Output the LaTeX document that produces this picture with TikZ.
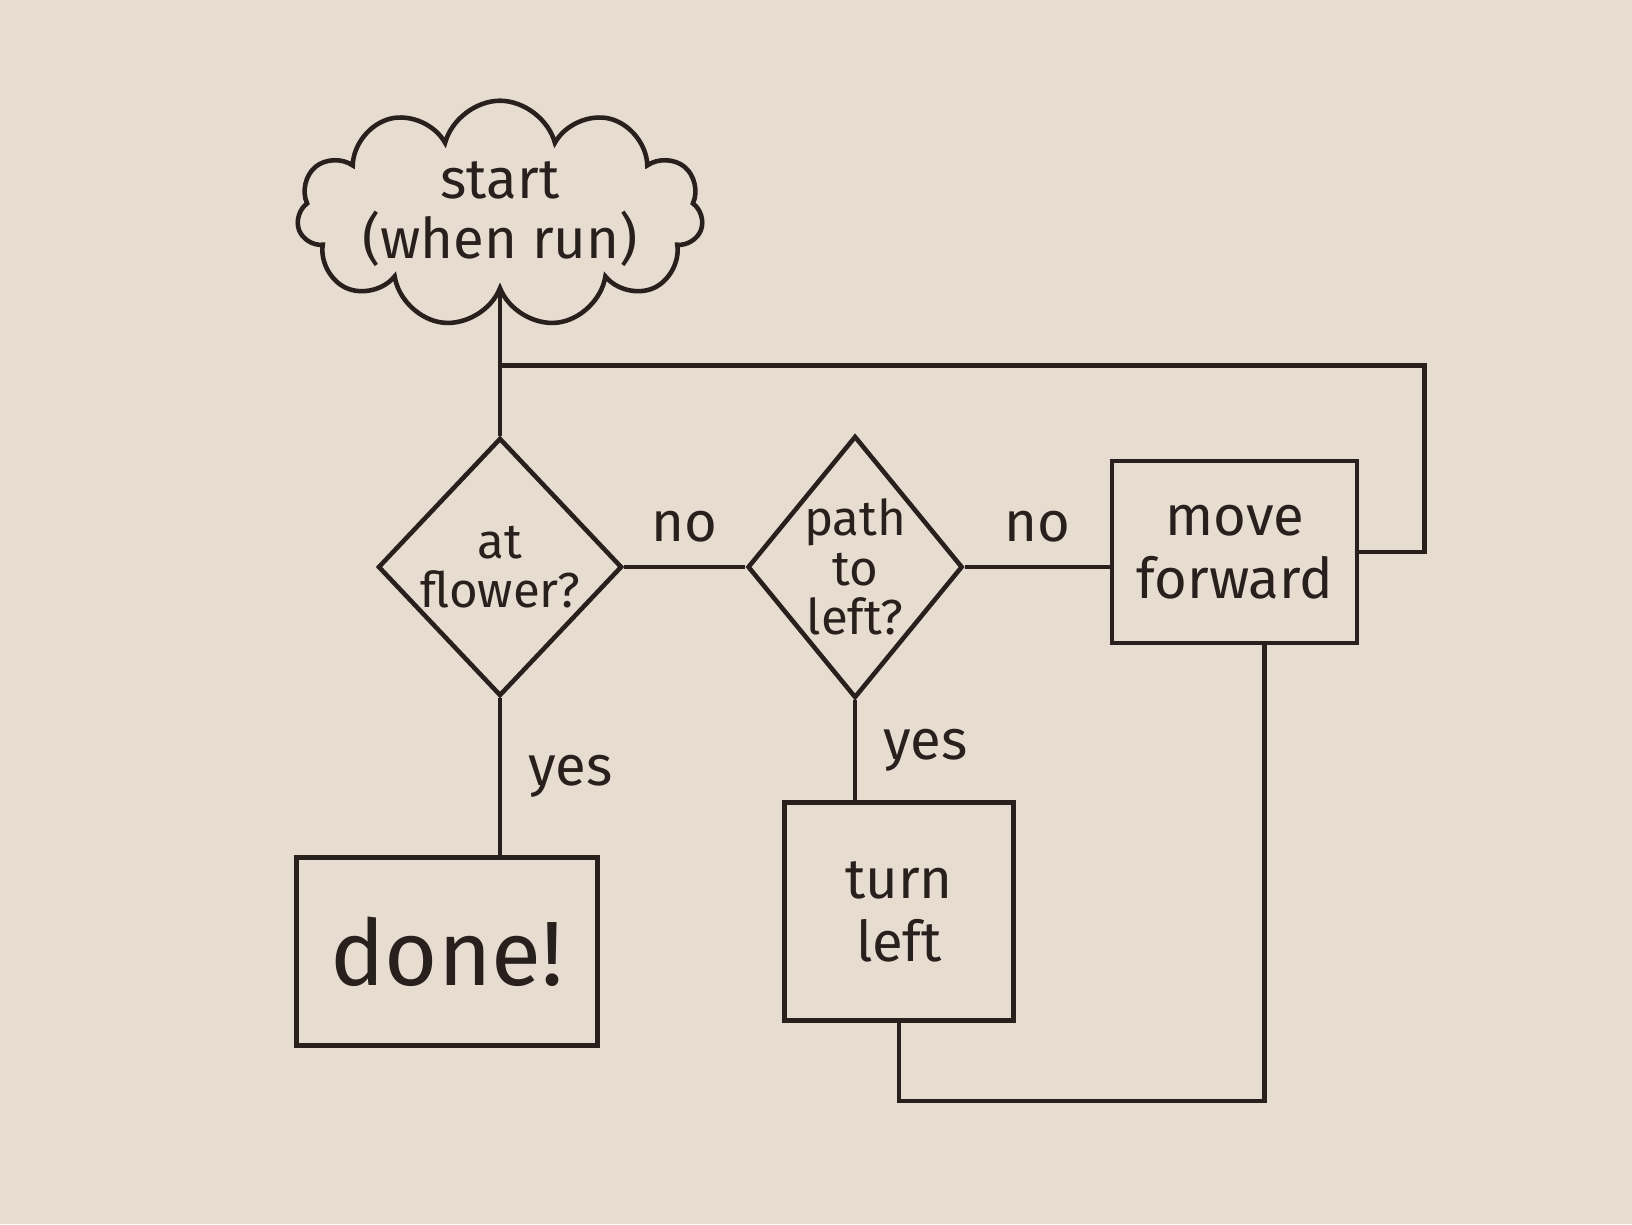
\documentclass[tikz,border=0pt]{standalone}
\usepackage{fontspec}
\setmainfont{Fira Sans}
\usepackage{xcolor}
\usepackage{tikz}
\usetikzlibrary{positioning, calc, shapes.geometric, shapes.symbols}

\definecolor{paper}{RGB}{231,220,208}
\definecolor{ink}{RGB}{40,32,28}

\begin{document}
\begin{tikzpicture}[line width=1.3pt, draw=ink, text=ink,
      every node/.style={text=ink},
      cloudbox/.style={draw=ink, cloud, cloud puffs=11, cloud ignores aspect, align=center,
        inner sep=0pt, minimum width=3.45cm, minimum height=1.6cm, font=\fontsize{16}{17}\selectfont},
      decision/.style={draw=ink, diamond, align=center, inner sep=-8pt,
        font=\fontsize{14}{14}\selectfont},
      action/.style={draw=ink, rectangle, align=center, font=\fontsize{16}{18}\selectfont},
      lbl/.style={font=\fontsize{16}{18}\selectfont}]

    \fill[paper] (0,0) rectangle (16.32,12.24);
    \useasboundingbox (0,0) rectangle (16.32,12.24);

    \node[decision, minimum width=2.44cm, minimum height=2.58cm] (atflower) at (5.0,6.57) {at\\flower?};
    \node[cloudbox, above=1.42cm of atflower] (start) {start\\(when run)};
    \node[decision, minimum width=2.15cm, minimum height=2.62cm, right=1.21cm of atflower] (pathleft) {path\\to\\left?};
    \node[action, minimum width=2.45cm, minimum height=1.82cm, right=1.45cm of pathleft, yshift=0.15cm] (moveforward) {move\\forward};
    \node[action, minimum width=3.01cm, minimum height=1.88cm, below=1.57cm of atflower, xshift=-0.53cm,
      font=\fontsize{26}{28}\selectfont] (done) {done!};
    \node[action, minimum width=2.29cm, minimum height=2.18cm, below=1.0cm of pathleft, xshift=0.44cm] (turnleft) {turn\\left};

    \coordinate (loopjoin) at ($(atflower.north)+(0,0.7)$);

    \draw (start) -- (atflower);
    \draw (atflower) -- node[lbl, midway, above=3pt] {no} (pathleft);
    \draw (pathleft.east) -- node[lbl, midway, above=3pt] {no} (pathleft.east -| moveforward.west);
    \draw (atflower) -- node[lbl, midway, right=4pt] {yes} (atflower |- done.north);
    \draw (pathleft.south) -- node[lbl, midway, right=4pt] {yes} (pathleft.south |- turnleft.north);

    % loop back to the first question
    \draw (moveforward.east) -- ++(0.65,0) |- (loopjoin);
    \draw (turnleft.south) -- ++(0,-0.78) -| ([xshift=0.3cm]moveforward.south);
  \end{tikzpicture}
\end{document}
